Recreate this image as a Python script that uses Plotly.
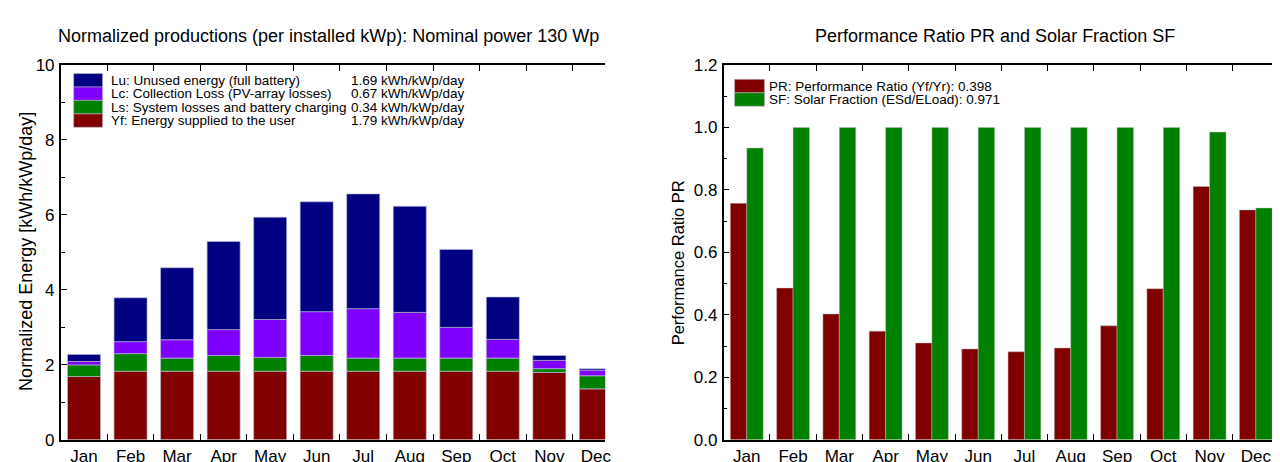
import plotly.graph_objects as go
import numpy as np

# ---------------- data ----------------
months = ["Jan", "Feb", "Mar", "Apr", "May", "Jun", "Jul", "Aug", "Sep", "Oct", "Nov", "Dec"]

# Normalized productions (kWh/kWp/day), stacked from bottom
yf = [1.69, 1.83, 1.83, 1.83, 1.83, 1.83, 1.83, 1.83, 1.83, 1.83, 1.80, 1.36]   # Energy supplied to the user
ls = [0.31, 0.47, 0.35, 0.42, 0.37, 0.42, 0.35, 0.35, 0.35, 0.35, 0.10, 0.35]   # System losses and battery charging
lc = [0.09, 0.32, 0.49, 0.69, 1.01, 1.17, 1.32, 1.22, 0.82, 0.50, 0.22, 0.15]   # Collection loss
lu = [0.19, 1.17, 1.92, 2.35, 2.73, 2.93, 3.06, 2.83, 2.08, 1.13, 0.13, 0.04]   # Unused energy

# Performance ratio and solar fraction
pr = [0.757, 0.486, 0.403, 0.348, 0.310, 0.291, 0.282, 0.294, 0.365, 0.484, 0.811, 0.736]
sf = [0.934, 1.0, 1.0, 1.0, 1.0, 1.0, 1.0, 1.0, 1.0, 1.0, 0.985, 0.742]

left_legend_labels = ["Lu: Unused energy (full battery)",
                      "Lc: Collection Loss (PV-array losses)",
                      "Ls: System losses and battery charging",
                      "Yf: Energy supplied to the user"]
left_legend_values = ["1.69 kWh/kWp/day", "0.67 kWh/kWp/day", "0.34 kWh/kWp/day", "1.79 kWh/kWp/day"]
right_legend_labels = ["PR: Performance Ratio (Yf/Yr): 0.398",
                       "SF: Solar Fraction (ESd/ELoad): 0.971"]

C_LU, C_LC, C_LS, C_YF = "#000080", "#8000FF", "#008000", "#800000"
C_PR, C_SF = "#800000", "#008000"

W, H = 1280, 462
FONT = "Liberation Sans, Arial, sans-serif"


def px(x):
    return x / W


def py(y):
    return 1 - y / H


fig = go.Figure()

# ---------------- left chart: stacked bars ----------------
yf_a, ls_a, lc_a, lu_a = map(np.array, (yf, ls, lc, lu))
stack = [(yf_a, np.zeros(12), C_YF, "Yf"),
         (ls_a, yf_a, C_LS, "Ls"),
         (lc_a, yf_a + ls_a, C_LC, "Lc"),
         (lu_a, yf_a + ls_a + lc_a, C_LU, "Lu")]
for vals, base, col, name in stack:
    fig.add_trace(go.Bar(x=months, y=vals, base=base, name=name, offsetgroup="L",
                         marker=dict(color=col, line=dict(color="rgba(190,190,215,0.9)", width=0.7)),
                         xaxis="x", yaxis="y", showlegend=False))

# ---------------- right chart: grouped bars ----------------
fig.add_trace(go.Bar(x=months, y=pr, name="PR", offsetgroup="a",
                     marker=dict(color=C_PR, line=dict(color="rgba(190,190,190,0.8)", width=0.6)),
                     xaxis="x2", yaxis="y2", showlegend=False))
fig.add_trace(go.Bar(x=months, y=sf, name="SF", offsetgroup="b",
                     marker=dict(color=C_SF, line=dict(color="rgba(190,190,190,0.8)", width=0.6)),
                     xaxis="x2", yaxis="y2", showlegend=False))

ydom = [py(441), py(50)]
axis_common = dict(showline=True, linecolor="black", linewidth=1.6, showgrid=False, zeroline=False,
                   tickfont=dict(family=FONT, size=17, color="black"), tickcolor="black")

fig.update_layout(
    width=W, height=H, margin=dict(l=0, r=0, t=0, b=0),
    paper_bgcolor="white", plot_bgcolor="white",
    barmode="group", bargap=0.29, bargroupgap=0,
    font=dict(family=FONT, color="black"),
    xaxis=dict(domain=[px(53), px(600)], range=[-0.5, 11.2], type="category",
               tickson="boundaries", ticks="inside", ticklen=6, mirror="ticks", anchor="y", **axis_common),
    yaxis=dict(domain=ydom, range=[0, 10], dtick=2, ticks="inside", ticklen=6, mirror=False,
               anchor="x", ticklabelstandoff=1,
               minor=dict(dtick=1, ticks="inside", ticklen=4, tickcolor="black"), **axis_common),
    xaxis2=dict(domain=[px(719), px(1277)], range=[-0.5, 11.5], type="category",
                tickson="boundaries", ticks="inside", ticklen=6, mirror="ticks", anchor="y2", **axis_common),
    yaxis2=dict(domain=ydom, range=[0, 1.2], dtick=0.2, tickformat=".1f", ticks="inside", ticklen=6,
                mirror="ticks", anchor="x2", ticklabelstandoff=1,
                minor=dict(dtick=0.1, ticks="inside", ticklen=4, tickcolor="black"), **axis_common),
)

shapes = []
annotations = []

# titles
annotations.append(dict(text="Normalized productions (per installed kWp): Nominal power 130 Wp",
                        x=px(322), y=py(20), xref="paper", yref="paper", showarrow=False,
                        xanchor="center", yanchor="middle", font=dict(family=FONT, size=18, color="black")))
annotations.append(dict(text="Performance Ratio PR and Solar Fraction SF",
                        x=px(992), y=py(20), xref="paper", yref="paper", showarrow=False,
                        xanchor="center", yanchor="middle", font=dict(family=FONT, size=18, color="black")))
# y-axis titles
annotations.append(dict(text="Normalized Energy [kWh/kWp/day]", textangle=-90,
                        x=px(18), y=py(244), xref="paper", yref="paper", showarrow=False,
                        xanchor="center", yanchor="middle", font=dict(family=FONT, size=18, color="black")))
annotations.append(dict(text="Performance Ratio PR", textangle=-90,
                        x=px(674), y=py(256), xref="paper", yref="paper", showarrow=False,
                        xanchor="center", yanchor="middle", font=dict(family=FONT, size=16.5, color="black")))

# left legend
left_cols = [C_LU, C_LC, C_LS, C_YF]
row_h = 14
top0 = 59
for i, (lab, val, col) in enumerate(zip(left_legend_labels, left_legend_values, left_cols)):
    y0 = top0 + i * row_h
    shapes.append(dict(type="rect", xref="paper", yref="paper", x0=px(66), x1=px(95),
                       y0=py(y0), y1=py(y0 + row_h), fillcolor=col, line=dict(width=0.6, color="#b0b0c0")))
    annotations.append(dict(text=lab, x=px(101), y=py(y0 + row_h / 2), xref="paper", yref="paper",
                            showarrow=False, xanchor="left", yanchor="middle",
                            font=dict(family=FONT, size=13.5, color="black")))
    annotations.append(dict(text=val, x=px(343), y=py(y0 + row_h / 2), xref="paper", yref="paper",
                            showarrow=False, xanchor="left", yanchor="middle",
                            font=dict(family=FONT, size=13.5, color="black")))

# right legend
right_cols = [C_PR, C_SF]
top1 = 65
for i, (lab, col) in enumerate(zip(right_legend_labels, right_cols)):
    y0 = top1 + i * row_h
    shapes.append(dict(type="rect", xref="paper", yref="paper", x0=px(730), x1=px(760),
                       y0=py(y0), y1=py(y0 + row_h), fillcolor=col, line=dict(width=0.6, color="#b0b0b0")))
    annotations.append(dict(text=lab, x=px(763), y=py(y0 + row_h / 2), xref="paper", yref="paper",
                            showarrow=False, xanchor="left", yanchor="middle",
                            font=dict(family=FONT, size=13.5, color="black")))

fig.update_layout(shapes=shapes, annotations=annotations)

fig.write_html("out.html")
